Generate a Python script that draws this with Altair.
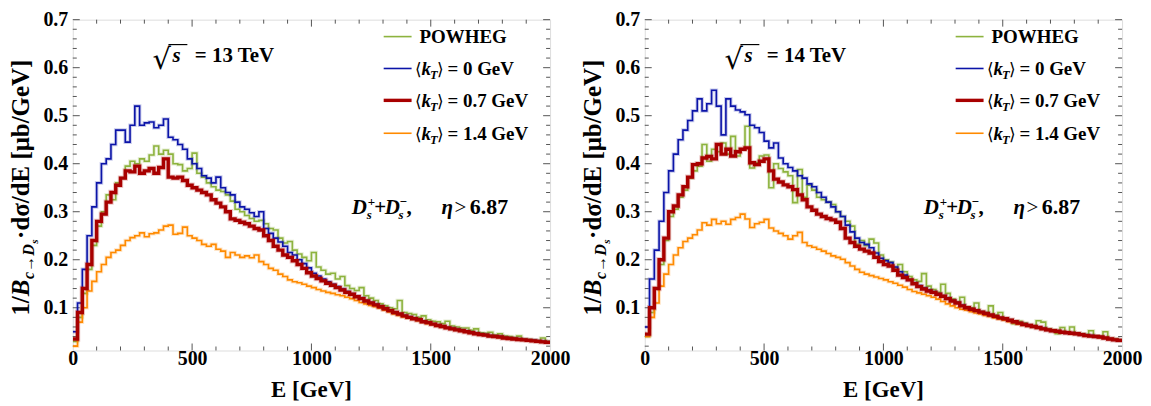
import altair as alt
import pandas as pd

# ---------------- data (20-GeV bins, bin start energies) ----------------
E_START = list(range(0, 2000, 20))

POWHEG_13 = [
    0.03, 0.08, 0.13, 0.18, 0.23, 0.27, 0.30, 0.335, 0.325, 0.36,
    0.37, 0.395, 0.405, 0.40, 0.41, 0.405, 0.418, 0.437, 0.42, 0.428,
    0.42, 0.40, 0.398, 0.385, 0.39, 0.422, 0.38, 0.372, 0.36, 0.352,
    0.345, 0.342, 0.335, 0.322, 0.305, 0.30, 0.292, 0.286, 0.28, 0.282,
    0.275, 0.265, 0.262, 0.245, 0.235, 0.238, 0.22, 0.212, 0.205, 0.198,
    0.215, 0.185, 0.178, 0.17, 0.172, 0.16, 0.165, 0.146, 0.14, 0.136,
    0.142, 0.125, 0.12, 0.115, 0.108, 0.104, 0.10, 0.098, 0.115, 0.09,
    0.088, 0.086, 0.08, 0.083, 0.075, 0.072, 0.071, 0.067, 0.072, 0.062,
    0.06, 0.058, 0.058, 0.053, 0.056, 0.048, 0.047, 0.049, 0.043, 0.046,
    0.041, 0.04, 0.038, 0.041, 0.035, 0.034, 0.033, 0.031, 0.037, 0.03,
]
KT0_13 = [
    0.05, 0.11, 0.18, 0.25, 0.31, 0.36, 0.40, 0.41, 0.44, 0.47,
    0.47, 0.445, 0.48, 0.52, 0.48, 0.485, 0.487, 0.475, 0.48, 0.493,
    0.455, 0.45, 0.44, 0.43, 0.41, 0.40, 0.39, 0.375, 0.37, 0.36,
    0.372, 0.35, 0.34, 0.335, 0.32, 0.31, 0.305, 0.298, 0.29, 0.30,
    0.265, 0.255, 0.245, 0.237, 0.228, 0.215, 0.21, 0.20, 0.192, 0.183,
    0.172, 0.166, 0.16, 0.154, 0.149, 0.144, 0.139, 0.134, 0.129, 0.124,
    0.12, 0.115, 0.111, 0.107, 0.103, 0.099, 0.094, 0.09, 0.087, 0.084,
    0.081, 0.078, 0.075, 0.072, 0.069, 0.066, 0.064, 0.061, 0.059, 0.057,
    0.055, 0.053, 0.051, 0.049, 0.047, 0.045, 0.044, 0.042, 0.041, 0.04,
    0.038, 0.037, 0.036, 0.035, 0.034, 0.033, 0.032, 0.031, 0.03, 0.029,
]
KT07_13 = [
    0.035, 0.09, 0.14, 0.19, 0.24, 0.28, 0.295, 0.32, 0.34, 0.355,
    0.37, 0.385, 0.383, 0.395, 0.38, 0.385, 0.39, 0.38, 0.392, 0.41,
    0.372, 0.37, 0.372, 0.365, 0.355, 0.35, 0.345, 0.34, 0.335, 0.325,
    0.318, 0.31, 0.30, 0.285, 0.282, 0.278, 0.275, 0.27, 0.265, 0.262,
    0.25, 0.24, 0.228, 0.22, 0.21, 0.205, 0.198, 0.19, 0.182, 0.173,
    0.166, 0.161, 0.156, 0.151, 0.147, 0.142, 0.137, 0.132, 0.128, 0.123,
    0.119, 0.114, 0.11, 0.106, 0.102, 0.098, 0.094, 0.09, 0.087, 0.083,
    0.08, 0.077, 0.075, 0.071, 0.069, 0.066, 0.063, 0.061, 0.058, 0.056,
    0.054, 0.052, 0.05, 0.048, 0.046, 0.044, 0.043, 0.041, 0.04, 0.039,
    0.037, 0.036, 0.035, 0.034, 0.033, 0.032, 0.031, 0.03, 0.029, 0.028,
]
KT14_13 = [
    0.02, 0.07, 0.10, 0.135, 0.155, 0.175, 0.19, 0.205, 0.215, 0.22,
    0.23, 0.24, 0.246, 0.25, 0.256, 0.248, 0.254, 0.256, 0.262, 0.27,
    0.272, 0.253, 0.255, 0.268, 0.25, 0.245, 0.24, 0.232, 0.228, 0.232,
    0.222, 0.218, 0.205, 0.215, 0.21, 0.205, 0.208, 0.204, 0.21, 0.196,
    0.19, 0.182, 0.178, 0.17, 0.165, 0.158, 0.154, 0.152, 0.149, 0.145,
    0.142, 0.138, 0.135, 0.132, 0.13, 0.127, 0.125, 0.122, 0.119, 0.115,
    0.111, 0.108, 0.105, 0.102, 0.099, 0.095, 0.091, 0.087, 0.084, 0.081,
    0.078, 0.076, 0.073, 0.07, 0.067, 0.065, 0.062, 0.06, 0.058, 0.056,
    0.054, 0.052, 0.05, 0.048, 0.046, 0.044, 0.043, 0.041, 0.04, 0.038,
    0.037, 0.036, 0.035, 0.034, 0.033, 0.032, 0.031, 0.03, 0.029, 0.028,
]

POWHEG_14 = [
    0.04, 0.09, 0.14, 0.19, 0.24, 0.29, 0.305, 0.33, 0.345, 0.37,
    0.385, 0.395, 0.44, 0.405, 0.43, 0.425, 0.443, 0.42, 0.457, 0.416,
    0.43, 0.478, 0.391, 0.402, 0.416, 0.418, 0.35, 0.40, 0.39, 0.383,
    0.375, 0.319, 0.388, 0.33, 0.355, 0.345, 0.33, 0.325, 0.32, 0.315,
    0.30, 0.29, 0.28, 0.27, 0.232, 0.24, 0.23, 0.243, 0.235, 0.21,
    0.20, 0.195, 0.183, 0.19, 0.175, 0.165, 0.158, 0.155, 0.171, 0.145,
    0.138, 0.132, 0.149, 0.13, 0.118, 0.112, 0.122, 0.102, 0.10, 0.11,
    0.092, 0.09, 0.104, 0.085, 0.09, 0.078, 0.075, 0.067, 0.072, 0.068,
    0.064, 0.062, 0.073, 0.07, 0.056, 0.054, 0.046, 0.059, 0.05, 0.06,
    0.047, 0.045, 0.044, 0.052, 0.041, 0.04, 0.05, 0.036, 0.035, 0.033,
]
KT0_14 = [
    0.06, 0.16, 0.22, 0.28, 0.34, 0.385, 0.42, 0.45, 0.47, 0.49,
    0.51, 0.535, 0.51, 0.525, 0.553, 0.52, 0.46, 0.535, 0.52, 0.512,
    0.508, 0.502, 0.48, 0.475, 0.465, 0.447, 0.433, 0.443, 0.412, 0.40,
    0.392, 0.385, 0.375, 0.37, 0.358, 0.352, 0.34, 0.33, 0.32, 0.31,
    0.30, 0.29, 0.272, 0.258, 0.245, 0.236, 0.232, 0.225, 0.214, 0.203,
    0.198, 0.194, 0.185, 0.175, 0.168, 0.158, 0.152, 0.146, 0.141, 0.137,
    0.133, 0.129, 0.125, 0.12, 0.115, 0.111, 0.105, 0.10, 0.097, 0.094,
    0.091, 0.088, 0.085, 0.082, 0.079, 0.077, 0.074, 0.071, 0.068, 0.066,
    0.063, 0.061, 0.059, 0.057, 0.054, 0.052, 0.051, 0.049, 0.048, 0.047,
    0.046, 0.044, 0.043, 0.042, 0.04, 0.039, 0.037, 0.035, 0.034, 0.032,
]
KT07_14 = [
    0.045, 0.10, 0.14, 0.20, 0.245, 0.30, 0.312, 0.335, 0.352, 0.372,
    0.398, 0.40, 0.412, 0.415, 0.41, 0.44, 0.42, 0.43, 0.416, 0.425,
    0.43, 0.433, 0.402, 0.398, 0.405, 0.41, 0.385, 0.368, 0.362, 0.356,
    0.352, 0.346, 0.335, 0.325, 0.31, 0.303, 0.295, 0.29, 0.286, 0.283,
    0.278, 0.265, 0.245, 0.236, 0.228, 0.222, 0.218, 0.214, 0.205, 0.196,
    0.19, 0.187, 0.178, 0.168, 0.163, 0.158, 0.15, 0.144, 0.139, 0.135,
    0.132, 0.128, 0.124, 0.119, 0.114, 0.11, 0.104, 0.10, 0.097, 0.094,
    0.091, 0.088, 0.085, 0.082, 0.079, 0.077, 0.074, 0.071, 0.068, 0.065,
    0.063, 0.061, 0.059, 0.056, 0.054, 0.052, 0.051, 0.049, 0.048, 0.047,
    0.046, 0.044, 0.042, 0.041, 0.04, 0.039, 0.037, 0.035, 0.033, 0.032,
]
KT14_14 = [
    0.04, 0.08, 0.11, 0.145, 0.17, 0.19, 0.21, 0.225, 0.238, 0.245,
    0.252, 0.262, 0.277, 0.272, 0.284, 0.275, 0.28, 0.274, 0.284, 0.288,
    0.295, 0.285, 0.267, 0.275, 0.278, 0.284, 0.266, 0.26, 0.255, 0.25,
    0.243, 0.25, 0.257, 0.236, 0.229, 0.226, 0.222, 0.218, 0.213, 0.208,
    0.205, 0.201, 0.194, 0.187, 0.18, 0.174, 0.17, 0.167, 0.164, 0.161,
    0.158, 0.154, 0.151, 0.147, 0.143, 0.138, 0.134, 0.131, 0.128, 0.125,
    0.122, 0.118, 0.113, 0.108, 0.104, 0.10, 0.097, 0.095, 0.092, 0.089,
    0.087, 0.084, 0.082, 0.079, 0.076, 0.074, 0.071, 0.069, 0.066, 0.064,
    0.062, 0.06, 0.058, 0.056, 0.054, 0.052, 0.05, 0.049, 0.048, 0.046,
    0.045, 0.044, 0.042, 0.041, 0.04, 0.038, 0.037, 0.035, 0.034, 0.032,
]

X_TICKS = [0, 500, 1000, 1500, 2000]
Y_TICKS = [0.1, 0.2, 0.3, 0.4, 0.5, 0.6, 0.7]
X_MINOR = [100, 200, 300, 400, 600, 700, 800, 900, 1100, 1200, 1300, 1400, 1600, 1700, 1800, 1900]
Y_MINOR = [0.02, 0.04, 0.06, 0.08, 0.12, 0.14, 0.16, 0.18, 0.22, 0.24, 0.26, 0.28,
           0.32, 0.34, 0.36, 0.38, 0.42, 0.44, 0.46, 0.48, 0.52, 0.54, 0.56, 0.58,
           0.62, 0.64, 0.66, 0.68]

# ---------------- styling ----------------
W, H = 479, 332
FONT = "Liberation Serif"
C_GREEN, C_BLUE, C_RED, C_ORANGE = "#8DB33E", "#0B14A8", "#A80000", "#FF8A00"
FRAME = "#555555"

X = alt.X("E:Q", scale=alt.Scale(domain=[0, 2000], nice=False, zero=False),
          axis=alt.Axis(values=X_TICKS, format="d", ticks=False, tickSize=0, domain=False,
                        grid=False, labelFont=FONT, labelFontWeight="bold", labelFontSize=20,
                        labelColor="black", labelPadding=-2, labelFlush=False, title=None))
Y = alt.Y("v:Q", scale=alt.Scale(domain=[0.011, 0.7], nice=False, zero=False),
          axis=alt.Axis(values=Y_TICKS, format=".1f", ticks=False, tickSize=0, domain=False,
                        grid=False, labelFont=FONT, labelFontWeight="bold", labelFontSize=20,
                        labelColor="black", labelPadding=5, labelFlush=False, title=None))


def step_df(vals):
    return pd.DataFrame({"E": E_START + [2000], "v": vals + [vals[-1]]})


def hist_line(vals, color, width):
    base = alt.Chart(step_df(vals))
    halo = base.mark_line(interpolate="step-after", color=color, strokeWidth=width + 2,
                          opacity=0.22, clip=True).encode(x=X, y=Y)
    main = base.mark_line(interpolate="step-after", color=color, strokeWidth=width,
                          clip=True).encode(x=X, y=Y)
    return [halo, main]


def txt(s, x, y, size=19, style="normal", weight="bold", align="left",
        baseline="alphabetic", angle=0, font=FONT):
    kw = dict(font=font, fontSize=size, fontStyle=style, fontWeight=weight, align=align,
              baseline=baseline, color="black")
    if angle:
        kw["angle"] = angle
    return alt.Chart(pd.DataFrame({"t": [s]})).mark_text(**kw).encode(
        text="t:N", x=alt.value(x), y=alt.value(y))


def seg(x1, x2, y, color, width):
    return alt.Chart(pd.DataFrame({"a": [0]})).mark_rule(color=color, strokeWidth=width).encode(
        x=alt.value(x1), x2=alt.value(x2), y=alt.value(y))


def tick_layers():
    out = []
    for vals, ln in ((Y_TICKS, 7), (Y_MINOR, 4)):
        d = alt.Chart(pd.DataFrame({"v": vals}))
        out.append(d.mark_rule(color=FRAME, strokeWidth=1).encode(y=Y, x=alt.value(0), x2=alt.value(ln)))
        out.append(d.mark_rule(color=FRAME, strokeWidth=1).encode(y=Y, x=alt.value(W), x2=alt.value(W - ln)))
    for vals, ln in ((X_TICKS[1:-1], 7), (X_MINOR, 4)):
        d = alt.Chart(pd.DataFrame({"E": vals}))
        out.append(d.mark_rule(color=FRAME, strokeWidth=1).encode(x=X, y=alt.value(H), y2=alt.value(H - ln)))
        out.append(d.mark_rule(color=FRAME, strokeWidth=1).encode(x=X, y=alt.value(0), y2=alt.value(ln)))
    return out


def panel(pw, k0, k07, k14, energy):
    layers = tick_layers()
    layers += hist_line(pw, C_GREEN, 1.6)
    layers += hist_line(k0, C_BLUE, 1.6)
    layers += hist_line(k14, C_ORANGE, 1.6)
    layers += hist_line(k07, C_RED, 3.4)

    # legend
    rows = [17, 49, 81, 114]
    for (col, wdt), ry in zip(((C_GREEN, 1.6), (C_BLUE, 1.6), (C_RED, 3.4), (C_ORANGE, 1.6)), rows):
        layers.append(seg(312, 340, ry, col, wdt))
    layers.append(txt("POWHEG", 348, rows[0] + 6.5, size=19))
    for val, ry in zip(("0", "0.7", "1.4"), rows[1:]):
        layers.append(txt("\u27e8", 343.5, ry + 6.5, size=17, weight="normal", font="DejaVu Serif"))
        layers.append(txt("k", 350, ry + 6.5, size=19, style="italic"))
        layers.append(txt("T", 358.5, ry + 10.5, size=12.5, style="italic"))
        layers.append(txt("\u27e9", 365.5, ry + 6.5, size=17, weight="normal", font="DejaVu Serif"))
        layers.append(txt("= " + val + " GeV", 376, ry + 6.5, size=19))

    # sqrt(s) annotation
    layers.append(txt("\u221a", 80, 49.5, size=29, weight="normal", font="DejaVu Serif"))
    layers.append(seg(96, 115, 25, "black", 1.2))
    layers.append(txt("s", 100, 42.5, size=21, style="italic"))
    layers.append(txt("= " + energy + " TeV", 122.5, 42.5, size=21))

    # D_s annotation
    by = 195.5
    layers.append(txt("D", 280, by, size=21, style="italic"))
    layers.append(txt("+", 296, by - 8, size=13))
    layers.append(txt("s", 295, by + 5, size=13, style="italic"))
    layers.append(txt("+", 302.5, by, size=21))
    layers.append(txt("D", 313, by, size=21, style="italic"))
    layers.append(txt("\u2212", 328, by - 8, size=13))
    layers.append(txt("s", 327, by + 5, size=13, style="italic"))
    layers.append(txt(",", 335, by, size=21))
    layers.append(txt("\u03b7", 370, by, size=21, style="italic"))
    layers.append(txt(">", 383, by, size=21, weight="normal"))
    layers.append(txt("6.87", 398.5, by, size=22))

    # y title (rotated, composed)
    layers.append(txt("1/", -44, 297, size=25, angle=270))
    layers.append(txt("B", -44, 277.5, size=25, style="italic", angle=270))
    layers.append(txt("c", -38.5, 260.3, size=16, style="italic", angle=270))
    layers.append(txt("\u2192", -38.5, 253, size=16, angle=270))
    layers.append(txt("D", -38.5, 237, size=16, style="italic", angle=270))
    layers.append(txt("s", -35, 225, size=11, style="italic", angle=270))
    layers.append(txt("\u00b7d\u03c3/dE [\u03bcb/GeV]", -44, 220, size=25, angle=270))

    # x title
    layers.append(txt("E [GeV]", W / 2, H + 47, size=23, align="center"))

    return alt.layer(*layers).properties(width=W, height=H)


left = panel(POWHEG_13, KT0_13, KT07_13, KT14_13, "13")
right = panel(POWHEG_14, KT0_14, KT07_14, KT14_14, "14")

chart = alt.hconcat(left, right, spacing=95, bounds="flush").properties(
    padding={"left": 0, "top": 0, "right": 0, "bottom": 0},
).configure_view(stroke=FRAME, strokeWidth=1).configure(background="white")

chart.save("out.html", embed_options={"renderer": "svg", "actions": False})
